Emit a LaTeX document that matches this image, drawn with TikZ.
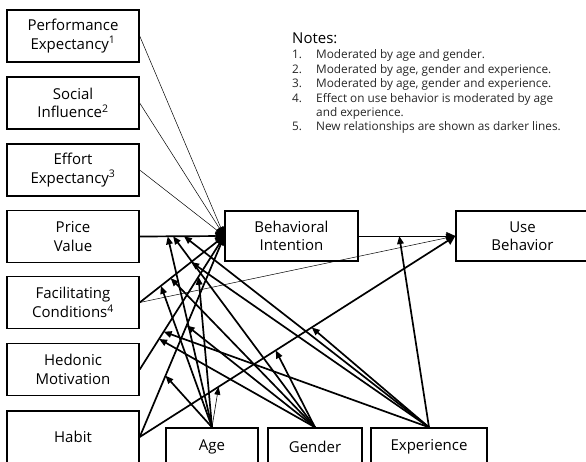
\documentclass[tikz,border=0pt]{standalone}
\usepackage{fontspec}
\setmainfont{Open Sans}
\usetikzlibrary{arrows.meta,calc}
\begin{document}
\begin{tikzpicture}[x=1pt,y=-1pt,
  box/.style={draw, line width=1.4pt, minimum width=132pt, minimum height=52pt, inner sep=0pt, align=center, font=\fontsize{15}{18.3}\selectfont},
  smallbox/.style={box, minimum height=38pt},
  thinline/.style={line width=0.5pt, -{Triangle[length=9pt,width=8pt]}},
  thickline/.style={line width=1.7pt, -{Triangle[length=9pt,width=9pt]}},
  modarrow/.style={line width=1.7pt, -{Triangle[length=8pt,width=6.5pt]}},
  thinmod/.style={line width=0.6pt, -{Triangle[length=8pt,width=6pt]}},
  notehead/.style={anchor=base west, inner sep=0pt, font=\fontsize{15}{18}\selectfont},
  note/.style={anchor=base west, inner sep=0pt, font=\fontsize{11.8}{14}\selectfont, text=black!85}
]
\useasboundingbox (0,0) rectangle (586,461);
% predictor boxes
\node[box] (pe) at (73,36) {Performance\\Expectancy\textsuperscript{1}};
\node[box] (si) at (73,103) {Social\\Influence\textsuperscript{2}};
\node[box] (ee) at (73,170) {Effort\\Expectancy\textsuperscript{3}};
\node[box] (pv) at (73,236.5) {Price\\Value};
\node[box] (fc) at (73,302.5) {Facilitating\\Conditions\textsuperscript{4}};
\node[box] (hm) at (73,369.5) {Hedonic\\Motivation};
\node[box] (habit) at (73,437) {Habit};
% outcome boxes
\node[box, minimum width=133pt, minimum height=50pt] (bi) at (291.5,236) {Behavioral\\Intention};
\node[box, minimum width=133pt, minimum height=50pt] (ub) at (522.5,236) {Use\\Behavior};
% moderators
\node[smallbox, minimum width=92pt] (age) at (212,447) {Age};
\node[smallbox, minimum width=94pt] (gender) at (315,447) {Gender};
\node[smallbox, minimum width=116pt] (exp) at (429,447) {Experience};
% notes
\node[notehead] (notes) at (292,43) {Notes:};
\node[note] (n1) at (292,58.5) {1.};
\node[note] (t1) at (316,58.5) {Moderated by age and gender.};
\node[note] (n2) at (292,73) {2.};
\node[note] (t2) at (316,73) {Moderated by age, gender and experience.};
\node[note] (n3) at (292,87.5) {3.};
\node[note] (t3) at (316,87.5) {Moderated by age, gender and experience.};
\node[note] (n4) at (292,102) {4.};
\node[note] (t4) at (316,102) {Effect on use behavior is moderated by age};
\node[note] (t4b) at (316,116.3) {and experience.};
\node[note] (n5) at (292,130.6) {5.};
\node[note] (t5) at (316,130.6) {New relationships are shown as darker lines.};
% main paths
\draw[thinline] (pe.east) -- (bi.west);
\draw[thinline] (si.east) -- (bi.west);
\draw[thinline] (ee.east) -- (bi.west);
\draw[thickline] (pv.east) -- (bi.west);
\draw[thickline] (fc.east) -- (bi.west);
\draw[thickline] (hm.east) -- (bi.west);
\draw[thickline] (habit.east) -- (bi.west);
\draw[thinline] (fc.east) -- (ub.west);
\draw[thickline] (habit.east) -- (ub.west);
\draw[thinline] (bi.east) -- (ub.west);
% moderation points
\coordinate (pvA) at ($(pv.east)!0.331!(bi.west)$);
\coordinate (pvG) at ($(pv.east)!0.395!(bi.west)$);
\coordinate (pvE) at ($(pv.east)!0.523!(bi.west)$);
\coordinate (fcA) at ($(fc.east)!0.251!(bi.west)$);
\coordinate (fcG) at ($(fc.east)!0.366!(bi.west)$);
\coordinate (fcE) at ($(fc.east)!0.608!(bi.west)$);
\coordinate (hmG) at ($(hm.east)!0.229!(bi.west)$);
\coordinate (hmE) at ($(hm.east)!0.283!(bi.west)$);
\coordinate (hmA) at ($(hm.east)!0.695!(bi.west)$);
\coordinate (hbA) at ($(habit.east)!0.305!(bi.west)$);
\coordinate (hbG) at ($(habit.east)!0.555!(bi.west)$);
\coordinate (huA) at ($(habit.east)!0.25!(ub.west)$);
\coordinate (huG) at ($(habit.east)!0.431!(ub.west)$);
\coordinate (huE) at ($(habit.east)!0.545!(ub.west)$);
\coordinate (buE) at ($(bi.east)!0.42!(ub.west)$);
% age
\draw[modarrow] (age.north) -- (pvA);
\draw[modarrow] (age.north) -- (fcA);
\draw[modarrow] (age.north) -- (hmA);
\draw[modarrow] (age.north) -- (hbA);
\draw[thinmod] (age.north) -- (huA);
% gender
\draw[modarrow] (gender.north) -- (pvG);
\draw[modarrow] (gender.north) -- (fcG);
\draw[modarrow] (gender.north) -- (hmG);
\draw[modarrow] (gender.north) -- (hbG);
\draw[modarrow] (gender.north) -- (huG);
% experience
\draw[modarrow] (exp.north) -- (pvE);
\draw[modarrow] (exp.north) -- (fcE);
\draw[modarrow] (exp.north) -- (hmE);
\draw[modarrow] (exp.north) -- (huE);
\draw[modarrow] (exp.north) -- (buE);
\end{tikzpicture}
\end{document}
